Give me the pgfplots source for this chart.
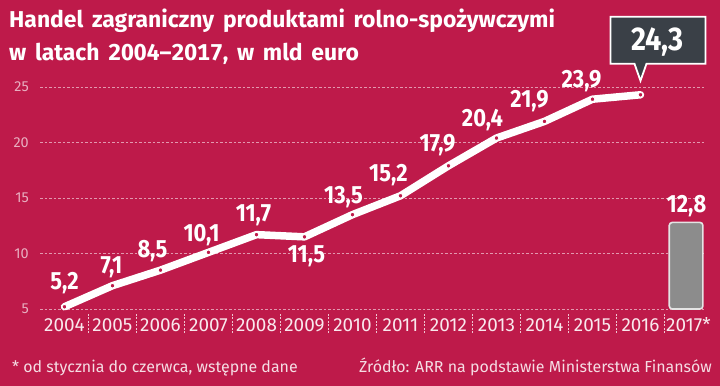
\documentclass[border=0pt]{standalone}
\usepackage{pgfplots}
\pgfplotsset{compat=1.18}
\usepackage{pgfplotstable}
\usepackage{fontspec}
\setmainfont{Fira Sans}
\newfontfamily\cond[FakeStretch=0.88]{Fira Sans}
\newfontfamily\titlefont[WordSpace=1.6, Numbers=Monospaced]{Fira Sans}
\definecolor{bg}{HTML}{BE1A4A}
\colorlet{gridc}{white!55!bg}
\colorlet{ytc}{white!65!bg}
\colorlet{xtc}{white!90!bg}
\colorlet{footc}{white!85!bg}
\colorlet{sepc}{white!75!bg}
\definecolor{boxgray}{HTML}{3A4047}
\definecolor{barfill}{HTML}{8C8C8C}
\definecolor{barborder}{HTML}{E4E4E4}

\pgfplotstableread{
x y
2004 5.2
2005 7.1
2006 8.5
2007 10.1
2008 11.7
2009 11.5
2010 13.5
2011 15.2
2012 17.9
2013 20.4
2014 21.9
2015 23.9
2016 24.3
}\linedata

\pgfplotstableread{
x y lab dx dy
2004 5.2 5,2 0 24
2005 7.1 7,1 -1 18
2006 8.5 8,5 -8 19
2007 10.1 10,1 -7 17
2008 11.7 11,7 -3 19
2009 11.5 11,5 2 -19
2010 13.5 13,5 -9 18
2011 15.2 15,2 -12 21
2012 17.9 17,9 -11 21
2013 20.4 20,4 -14 18
2014 21.9 21,9 -15 20
2015 23.9 23,9 -11 18
2017 12.8 12,8 -2 16
}\labdata

\begin{document}
\begin{tikzpicture}
\useasboundingbox (0,0) rectangle (720bp,386bp);
\fill[bg] (0,0) rectangle (720bp,386bp);
\node[anchor=base west, inner sep=0pt, text=white, font=\titlefont\bfseries\fontsize{23}{27}\selectfont] at (9bp,358.5bp) {Handel zagraniczny produktami rolno-spożywczymi};
\node[anchor=base west, inner sep=0pt, text=white, font=\titlefont\bfseries\fontsize{23}{27}\selectfont] at (9bp,325bp) {w latach 2004–2017, w mld euro};
\node[anchor=base west, inner sep=0pt, text=footc, font=\fontsize{16}{19}\selectfont] at (12bp,13.5bp) {* od stycznia do czerwca, wstępne dane};
\node[anchor=base east, inner sep=0pt, text=footc, font=\fontsize{16}{19}\selectfont] at (712bp,13.5bp) {Źródło: ARR na podstawie Ministerstwa Finansów};

\begin{axis}[
  at={(40bp,77bp)}, anchor=south west,
  width=665bp, height=222bp, scale only axis, clip=false,
  xmin=2003.49, xmax=2017.344, ymin=5, ymax=25,
  axis line style={draw=none},
  major tick length=0pt,
  xtick pos=bottom, ytick pos=left,
  ytick={5,10,15,20,25},
  xtick={2004,2005,2006,2007,2008,2009,2010,2011,2012,2013,2014,2015,2016,2017},
  xticklabels={2004,2005,2006,2007,2008,2009,2010,2011,2012,2013,2014,2015,2016,2017*},
  ymajorgrids,
  grid style={draw=gridc, line width=0.8bp, dash pattern=on 2.5bp off 2bp},
  yticklabel style={font=\fontsize{14.5}{17}\selectfont, text=ytc, anchor=east, inner sep=0pt, xshift=-11bp},
  xticklabel style={font=\fontsize{19}{22}\selectfont, text=xtc, anchor=base, inner sep=0pt, yshift=-23bp},
  /pgf/number format/assume math mode=true,
  extra x ticks={2004.5,2005.5,2006.5,2007.5,2008.5,2009.5,2010.5,2011.5,2012.5,2013.5,2014.5,2015.5,2016.5},
  extra x tick labels={},
  extra x tick style={tick align=outside, major tick length=20bp,
    tick style={draw=sepc, line width=0.7bp, dash pattern=on 2bp off 1.5bp, yshift=-4bp}},
]
\addplot[fill=barfill, draw=barborder, line width=1.6bp, rounded corners=3bp]
  coordinates {(2016.6,5) (2016.6,12.8) (2017.3,12.8) (2017.3,5)} -- cycle;
\addplot[white, line width=7.5bp, line join=round, line cap=round] table[x=x,y=y] {\linedata};
\addplot[only marks, mark=*, mark size=2.4bp, mark options={fill=bg, draw=white, line width=1bp}] table[x=x,y=y] {\linedata};
\addplot[draw=none, mark=none,
  nodes near coords, point meta=explicit symbolic,
  visualization depends on={\thisrow{dx}\as\dx},
  visualization depends on={\thisrow{dy}\as\dy},
  nodes near coords style={anchor=center, inner sep=0pt, xshift=\dx bp, yshift=\dy bp, text=white,
    font=\cond\bfseries\fontsize{25}{28}\selectfont}]
  table[x=x,y=y,meta=lab] {\labdata};
\coordinate (P) at (axis cs:2016,24.3);
\end{axis}

\draw[fill=boxgray, draw=white, line width=1.8bp, line join=miter]
  ([shift={(-30bp,31bp)}]P) -- ([shift={(-6bp,31bp)}]P) -- ([shift={(0bp,14bp)}]P)
  -- ([shift={(6bp,31bp)}]P) -- ([shift={(65bp,31bp)}]P) -- ([shift={(65bp,78bp)}]P)
  -- ([shift={(-30bp,78bp)}]P) -- cycle;
\node[text=white, inner sep=0pt, font=\cond\bfseries\fontsize{33}{36}\selectfont] at ([shift={(17bp,53bp)}]P) {24,3};
\end{tikzpicture}
\end{document}
